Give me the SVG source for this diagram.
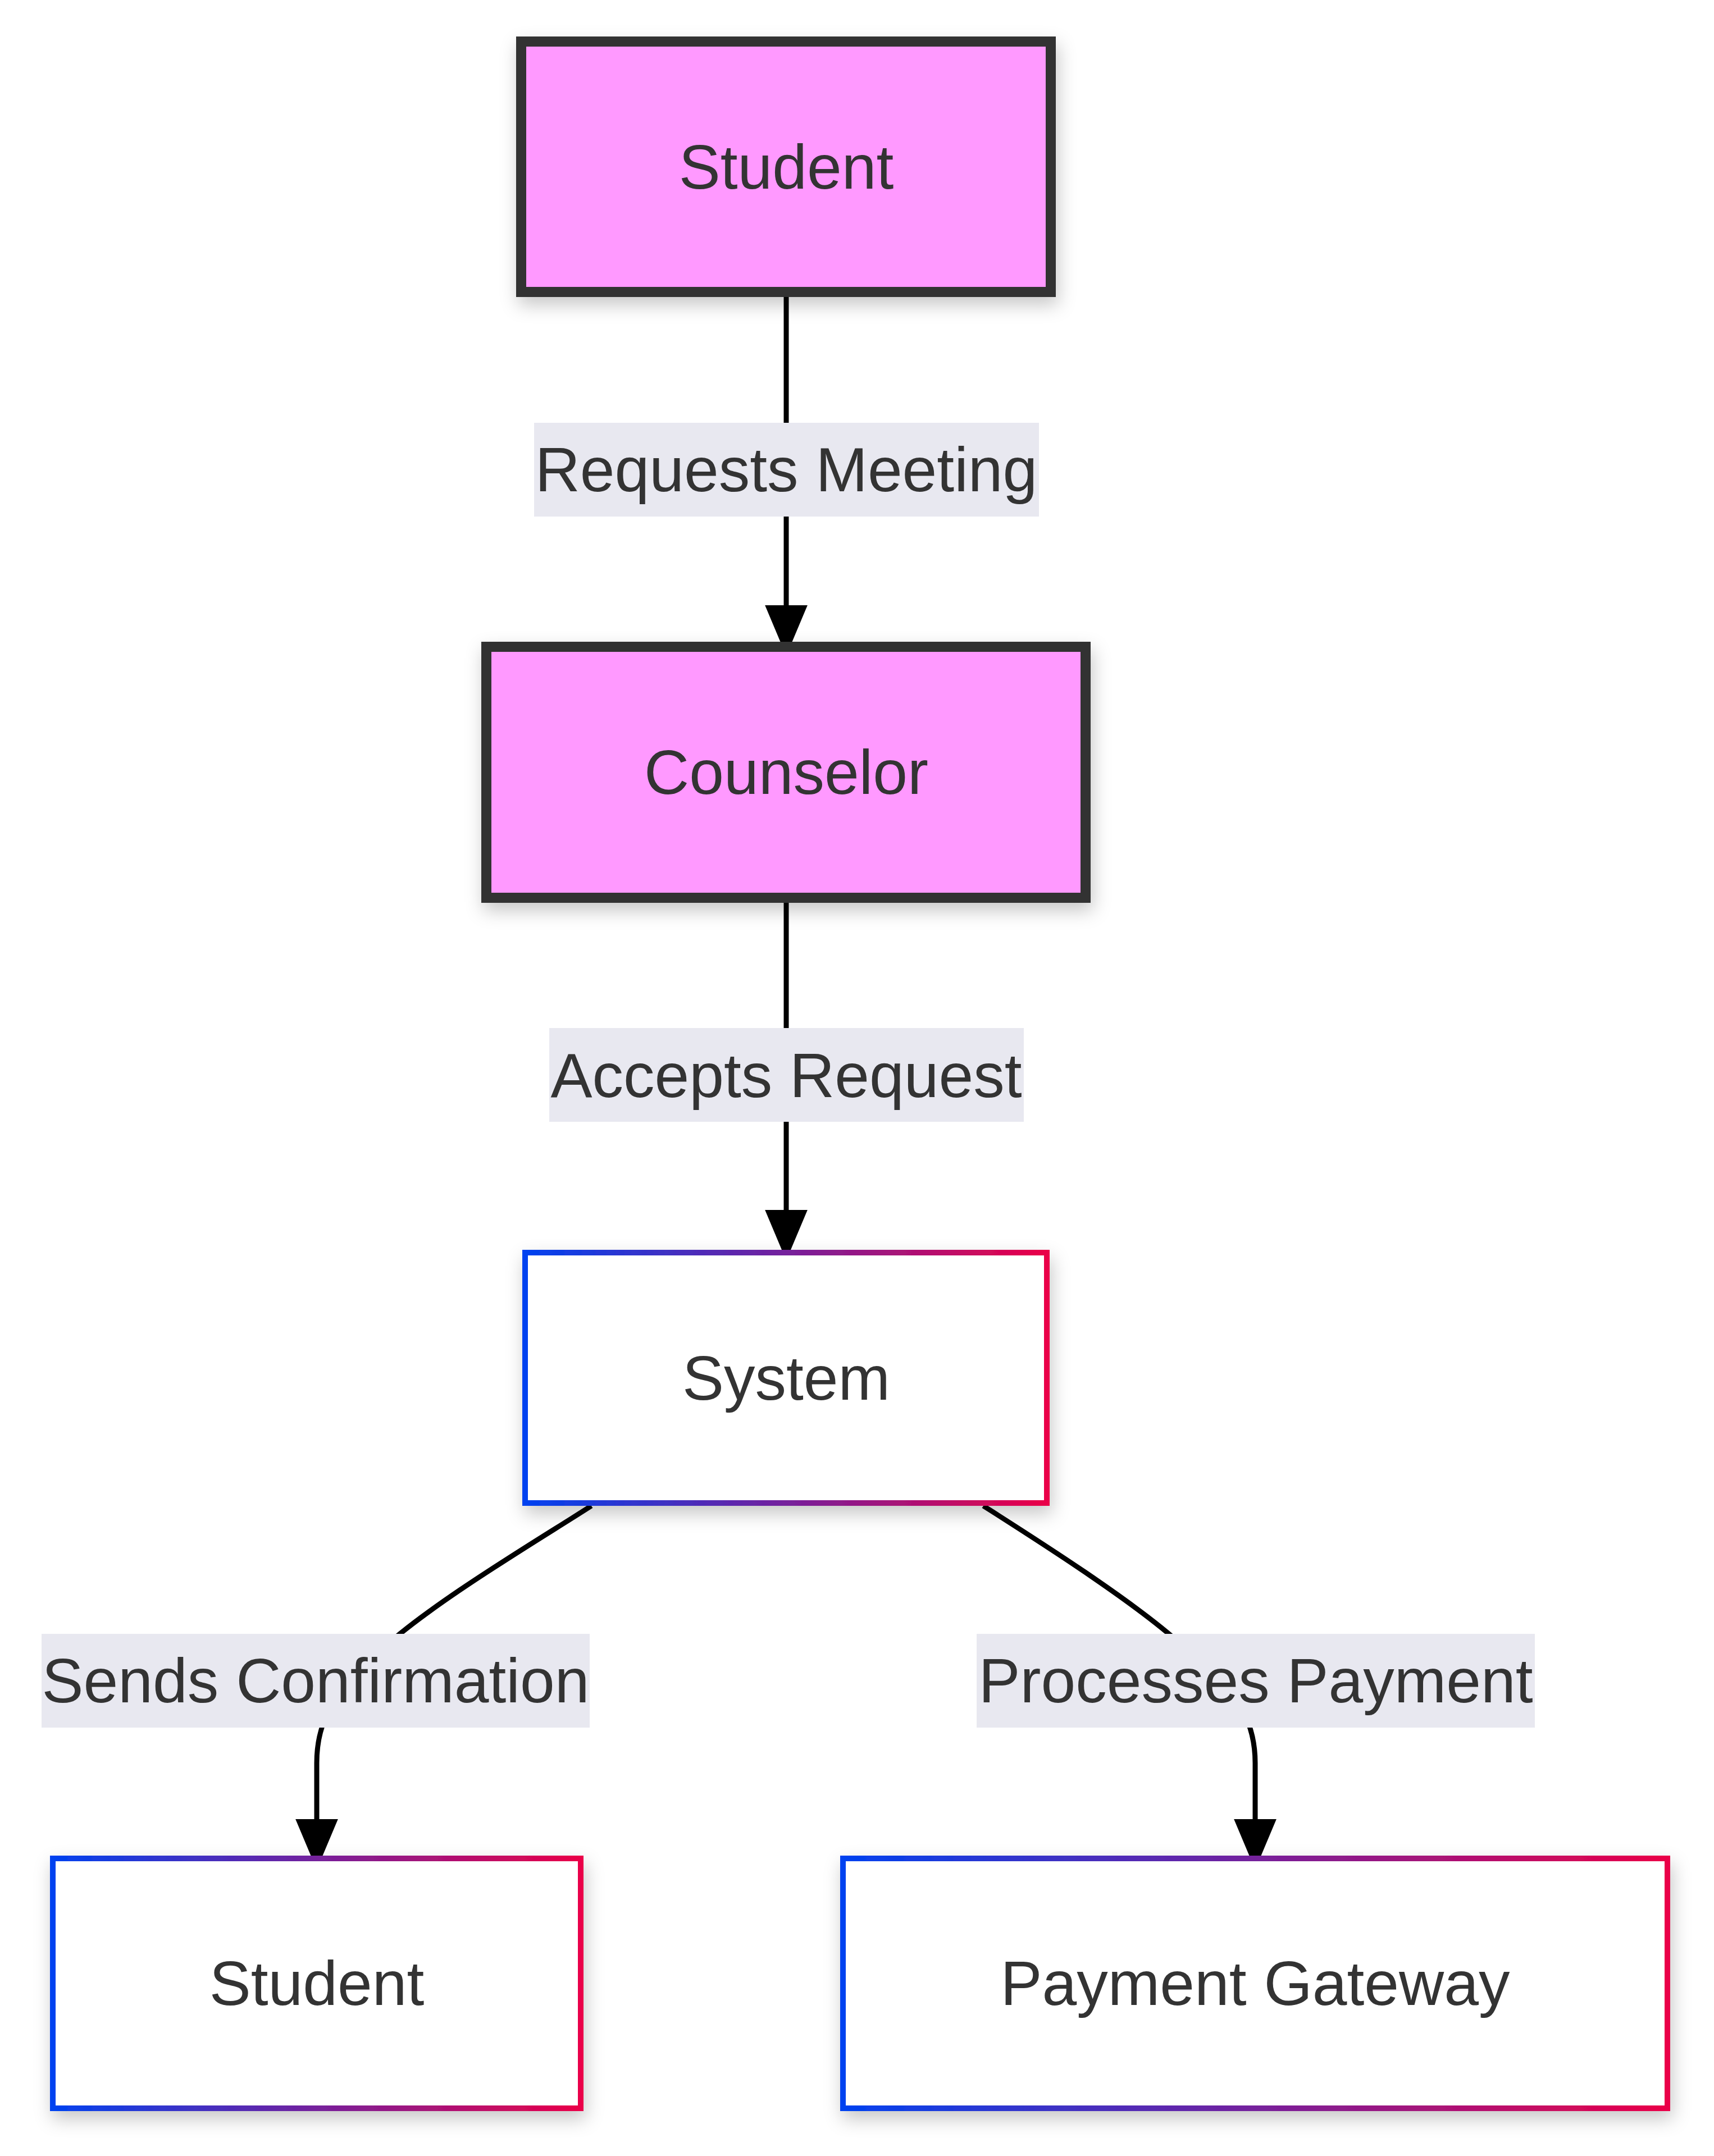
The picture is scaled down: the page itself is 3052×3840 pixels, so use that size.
<svg xmlns="http://www.w3.org/2000/svg" width="3052" height="3840" viewBox="0 0 3052 3840">
<style>
  .t { font-family: "Liberation Sans", Arial, Helvetica, sans-serif; font-size: 111px; fill: #333333; text-anchor: middle; }
  .pink { fill: #ff99ff; stroke: #333333; stroke-width: 18; }
  .grad { fill: #ffffff; stroke: url(#bg); stroke-width: 10; }
  .edge { fill: none; stroke: #000000; stroke-width: 9; marker-end: url(#arrow); }
  .lbl { fill: #e8e8f0; }
</style>
<defs>
  <linearGradient id="bg" x1="0" y1="0" x2="1" y2="0">
    <stop offset="0" stop-color="#0042f0"/>
    <stop offset="1" stop-color="#ea0048"/>
  </linearGradient>
  <filter id="sh" x="-20%" y="-20%" width="140%" height="160%">
    <feDropShadow dx="4" dy="14" stdDeviation="16" flood-color="#000000" flood-opacity="0.22"/>
  </filter>
  <marker id="arrow" markerUnits="userSpaceOnUse" markerWidth="90" markerHeight="76" viewBox="0 0 88 74" refX="0" refY="37" orient="auto">
    <path d="M0,0 L88,37 L0,74 z" fill="#000000"/>
  </marker>
</defs>
<rect width="3052" height="3840" fill="#ffffff"/>
<g id="connectors">
  <path class="edge" d="M1400,529 L1400,1078"/>
  <path class="edge" d="M1400,1608 L1400,2155"/>
  <path class="edge" d="M1053,2682 C960,2742 760,2860 672,2945 C598,3015 564,3060 564,3140 L564,3240"/>
  <path class="edge" d="M1751,2682 C1845,2742 2035,2862 2115,2940 C2200,3010 2235,3060 2235,3140 L2235,3240"/>
</g>
<g id="edge-labels">
  <g id="label-requests">
    <rect class="lbl" x="951" y="753" width="899" height="167"/>
    <text class="t" x="1400" y="875">Requests Meeting</text>
  </g>
  <g id="label-accepts">
    <rect class="lbl" x="978" y="1831" width="845" height="167"/>
    <text class="t" x="1400" y="1954">Accepts Request</text>
  </g>
  <g id="label-sends">
    <rect class="lbl" x="74" y="2910" width="976" height="167"/>
    <text class="t" x="562" y="3032">Sends Confirmation</text>
  </g>
  <g id="label-processes">
    <rect class="lbl" x="1739" y="2910" width="994" height="167"/>
    <text class="t" x="2236" y="3032">Processes Payment</text>
  </g>
</g>
<g id="node-student">
  <rect class="pink" x="928" y="74" width="943" height="446" filter="url(#sh)"/>
  <text class="t" x="1400" y="336">Student</text>
</g>
<g id="node-counselor">
  <rect class="pink" x="866" y="1152" width="1067" height="447" filter="url(#sh)"/>
  <text class="t" x="1400" y="1414">Counselor</text>
</g>
<g id="node-system">
  <rect class="grad" x="935" y="2231" width="929" height="446" filter="url(#sh)"/>
  <text class="t" x="1400" y="2493">System</text>
</g>
<g id="node-student2">
  <rect class="grad" x="94" y="3310" width="940" height="445" filter="url(#sh)"/>
  <text class="t" x="564" y="3571">Student</text>
</g>
<g id="node-payment">
  <rect class="grad" x="1501" y="3310" width="1468" height="445" filter="url(#sh)"/>
  <text class="t" x="2235" y="3571">Payment Gateway</text>
</g>
</svg>
